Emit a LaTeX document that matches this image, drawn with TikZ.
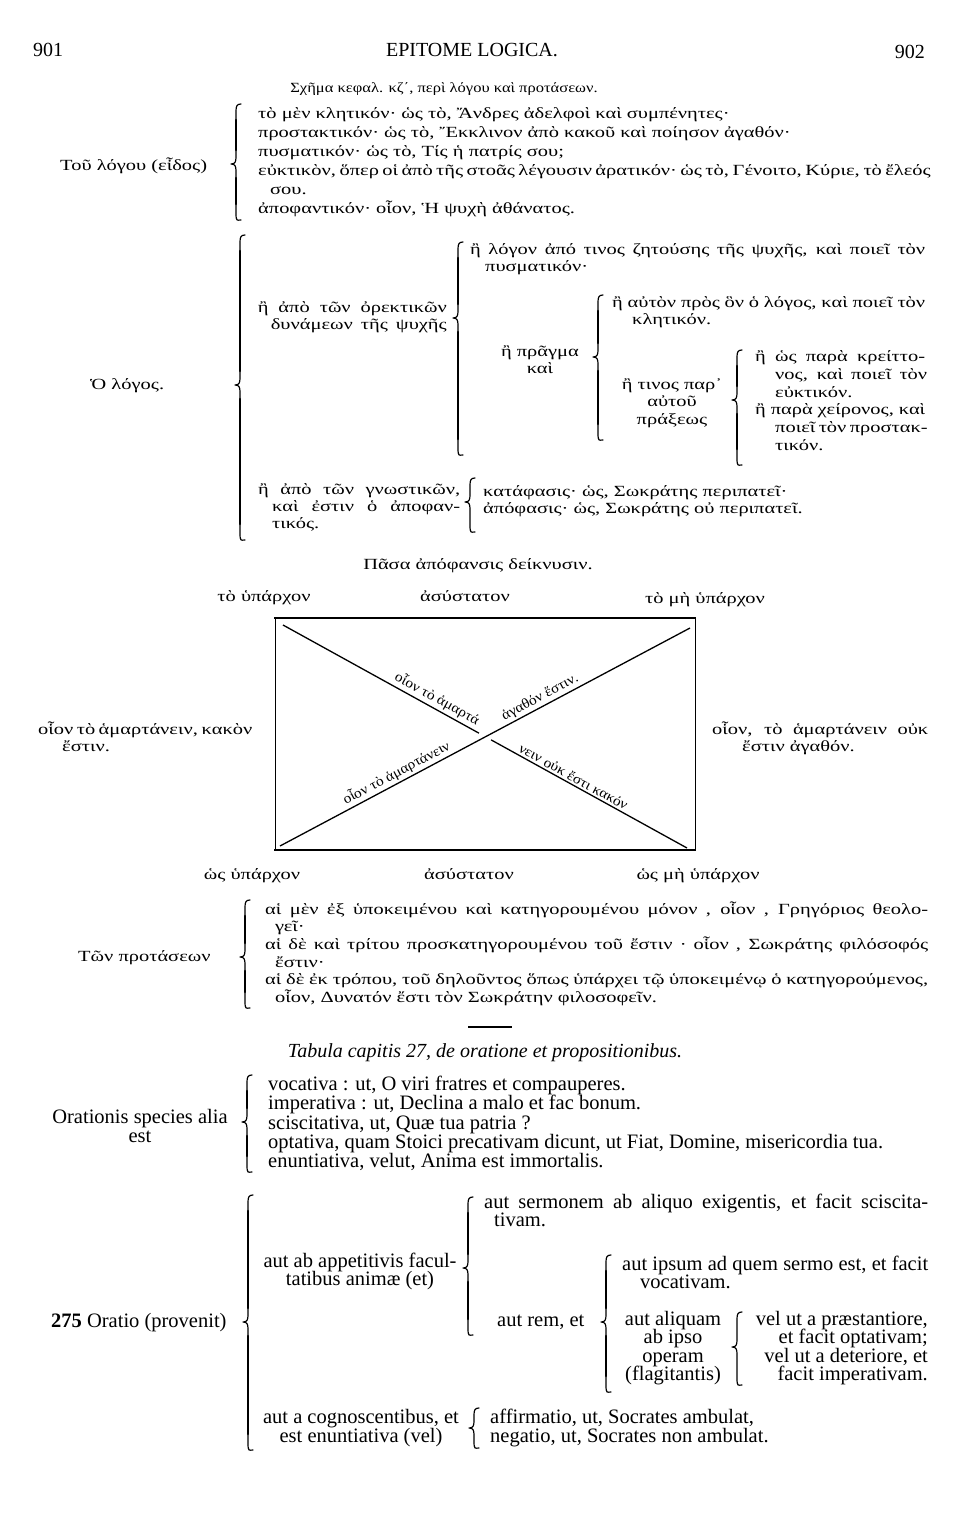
\documentclass[tikz,border=0pt]{standalone}
\usepackage{fontspec}
\setmainfont{Liberation Serif}
\newfontfamily\grkfam[FakeStretch=1.32]{Liberation Serif}
\newfontfamily\diagfam[FakeStretch=1.1]{Liberation Serif}
\newfontfamily\ttlfam[FakeStretch=1.18]{Liberation Serif}
\usetikzlibrary{calc}
\newcommand\J[2]{\makebox[#1pt][s]{#2}}
\newcommand\grkf{\grkfam\fontsize{15.5}{18}\selectfont}
\newcommand\diagf{\diagfam\fontsize{14}{17}\selectfont}
\newcommand\ttlf{\ttlfam\fontsize{14}{17}\selectfont}
\newcommand\latf{\fontsize{20.5}{21}\selectfont}
\newcommand\hdf{\fontsize{20}{21}\selectfont}
% thin brace: x, top, bottom, tip
\newcommand\brk[5][]{%
  \draw[brc,#1] (#2+5,-#3) .. controls (#2+1,-#3) and (#2,-#3-2) .. (#2,-#3-7)
    -- (#2,-#5+7) .. controls (#2,-#5+2) and (#2-1,-#5) .. (#2-5,-#5)
    .. controls (#2-1,-#5) and (#2,-#5-2) .. (#2,-#5-7)
    -- (#2,-#4+7) .. controls (#2,-#4-2) and (#2+1,-#4) .. (#2+5,-#4);}
% brace with heavier stems
\newcommand\brkT[4]{%
  \brk{#1}{#2}{#3}{#4}
  \draw[stem] (#1,-#2-16) -- (#1,-#4+14);
  \draw[stem] (#1,-#4-14) -- (#1,-#3+16);}
\tikzset{
  gtxt/.style={font=\grkf, inner sep=0pt, anchor=base west},
  ltxt/.style={font=\latf, inner sep=0pt, anchor=base west},
  dtxt/.style={font=\diagf, inner sep=2.5pt, anchor=south, sloped},
  hd/.style={font=\hdf, inner sep=0pt},
  brc/.style={line width=1.2pt, line cap=round, line join=round},
  stem/.style={line width=2.6pt, line cap=round},
  diag/.style={line width=1.3pt},
}
\begin{document}
\begin{tikzpicture}[x=1pt,y=1pt]
\fill[white] (0,0) rectangle (960,-1540);
\useasboundingbox (0,0) rectangle (960,-1540);
% header
\node[hd, anchor=base west] (pl) at (33,-56) {901};
\node[hd, anchor=base] (ttl) at (472,-56) {EPITOME LOGICA.};
\node[hd, anchor=base east] (pr) at (925,-58) {902};
\node[gtxt, font=\ttlf, anchor=base] (sch) at (444,-92) {Σχῆμα κεφαλ. κζ΄, περὶ λόγου καὶ προτάσεων.};
% section 1
\node[gtxt] (s1h) at (60,-170) {Τοῦ λόγου (εἶδος)};
\brkT{236}{104}{220}{164}
\node[gtxt] (s1a) at (258,-118) {τὸ μὲν κλητικόν· ὡς τὸ, Ἄνδρες ἀδελφοὶ καὶ συμπένητες·};
\node[gtxt] (s1b) at (258,-137) {προστακτικόν· ὡς τὸ, Ἔκκλινον ἀπὸ κακοῦ καὶ ποίησον ἀγαθόν·};
\node[gtxt] (s1c) at (258,-156) {πυσματικόν· ὡς τὸ, Τίς ἡ πατρίς σου;};
\node[gtxt] (s1d) at (258,-175) {\J{667}{εὐκτικὸν, ὅπερ οἱ ἀπὸ τῆς στοᾶς λέγουσιν ἀρατικόν· ὡς τὸ, Γένοιτο, Κύριε, τὸ ἔλεός}};
\node[gtxt] (s1e) at (270,-194) {σου.};
\node[gtxt] (s1f) at (258,-213) {ἀποφαντικόν· οἷον, Ἡ ψυχὴ ἀθάνατος.};
% section 2
\node[gtxt] (lg) at (90,-389) {Ὁ λόγος.};
\brkT{240}{235}{540}{385}
\node[gtxt, anchor=base east] (a1) at (447,-312) {\J{189}{ἢ ἀπὸ τῶν ὀρεκτικῶν}};
\node[gtxt, anchor=base east] (a2) at (447,-329) {\J{176}{δυνάμεων τῆς ψυχῆς}};
\brkT{458}{242}{455}{318}
\node[gtxt] (b1) at (470,-254) {\J{455}{ἢ λόγον ἀπό τινος ζητούσης τῆς ψυχῆς, καὶ ποιεῖ τὸν}};
\node[gtxt] (b2) at (485,-271) {πυσματικόν·};
\node[gtxt, anchor=base] (c1) at (540,-356) {ἢ πρᾶγμα};
\node[gtxt, anchor=base] (c2) at (540,-373) {καὶ};
\brkT{598}{295}{440}{357}
\node[gtxt] (d1) at (612,-307) {\J{313}{ἢ αὐτὸν πρὸς ὃν ὁ λόγος, καὶ ποιεῖ τὸν}};
\node[gtxt] (d2) at (632,-324) {κλητικόν.};
\node[gtxt, anchor=base] (e1) at (672,-389) {ἢ τινος παρ᾽};
\node[gtxt, anchor=base] (e2) at (672,-406) {αὐτοῦ};
\node[gtxt, anchor=base] (e3) at (672,-424) {πράξεως};
\brkT{737}{350}{465}{400}
\node[gtxt] (f1) at (755,-361) {\J{170}{ἢ ὡς παρὰ κρείττο-}};
\node[gtxt] (f2) at (775,-379) {\J{152}{νος, καὶ ποιεῖ τὸν}};
\node[gtxt] (f3) at (775,-397) {εὐκτικόν.};
\node[gtxt] (f4) at (755,-414) {\J{170}{ἢ παρὰ χείρονος, καὶ}};
\node[gtxt] (f5) at (775,-432) {\J{152}{ποιεῖ τὸν προστακ-}};
\node[gtxt] (f6) at (775,-450) {τικόν.};
\node[gtxt] (g1) at (258,-494) {\J{202}{ἢ ἀπὸ τῶν γνωστικῶν,}};
\node[gtxt] (g2) at (272,-511) {\J{188}{καὶ ἐστιν ὁ ἀποφαν-}};
\node[gtxt] (g3) at (272,-528) {τικός.};
\brk{470}{478}{532}{502}
\node[gtxt] (h1) at (483,-496) {κατάφασις· ὡς, Σωκράτης περιπατεῖ·};
\node[gtxt] (h2) at (483,-513) {ἀπόφασις· ὡς, Σωκράτης οὐ περιπατεῖ.};
% square of opposition
\node[gtxt, anchor=base] (pasa) at (478,-569) {Πᾶσα ἀπόφανσις δείκνυσιν.};
\node[gtxt, anchor=base] (t1) at (264,-601) {τὸ ὑπάρχον};
\node[gtxt, anchor=base] (t2) at (465,-601) {ἀσύστατον};
\node[gtxt, anchor=base] (t3) at (705,-603) {τὸ μὴ ὑπάρχον};
\draw[line width=0.9pt] (275,-618) -- (275,-850) (695,-618) -- (695,-850);
\draw[line width=2pt] (274,-618) -- (696,-618);
\draw[line width=2.4pt] (274,-850) -- (696,-850);
\coordinate (dtl) at (283,-625);
\coordinate (dbr) at (687,-848);
\coordinate (dbl) at (280,-846);
\coordinate (dtr) at (690,-628);
\draw[diag] (dbl) -- (dtr);
\draw[diag] (dtl) -- ($(dtl)!0.485!(dbr)$);
\draw[diag] ($(dtl)!0.515!(dbr)$) -- (dbr);
\path (dtl) -- (dbr) node[dtxt, pos=0.37] (x1) {οἷον τὸ ἁμαρτά};
\path (dtl) -- (dbr) node[dtxt, pos=0.71] (x2) {νειν οὐκ ἔστι κακόν};
\path (dbl) -- (dtr) node[dtxt, pos=0.295] (x3) {οἷον τὸ ἁμαρτάνειν};
\path (dbl) -- (dtr) node[dtxt, pos=0.645] (x4) {ἀγαθόν ἔστιν.};
\node[gtxt] (lft1) at (38,-734) {\J{214}{οἷον τὸ ἁμαρτάνειν, κακὸν}};
\node[gtxt] (lft2) at (62,-751) {ἔστιν.};
\node[gtxt] (rgt1) at (712,-734) {\J{216}{οἷον, τὸ ἁμαρτάνειν οὐκ}};
\node[gtxt] (rgt2) at (742,-751) {ἔστιν ἀγαθόν.};
\node[gtxt, anchor=base] (u1) at (252,-879) {ὡς ὑπάρχον};
\node[gtxt, anchor=base] (u2) at (469,-879) {ἀσύστατον};
\node[gtxt, anchor=base] (u3) at (698,-879) {ὡς μὴ ὑπάρχον};
% propositions
\node[gtxt] (prh) at (78,-961) {Τῶν προτάσεων};
\brkT{245}{900}{1008}{957}
\node[gtxt] (p1) at (265,-914) {\J{663}{αἱ μὲν ἐξ ὑποκειμένου καὶ κατηγορουμένου μόνον , οἷον , Γρηγόριος θεολο-}};
\node[gtxt] (p2) at (275,-931.6) {γεῖ·};
\node[gtxt] (p3) at (265,-949) {\J{663}{αἱ δὲ καὶ τρίτου προσκατηγορουμένου τοῦ ἔστιν · οἷον , Σωκράτης φιλόσοφός}};
\node[gtxt] (p4) at (275,-967) {ἔστιν·};
\node[gtxt] (p5) at (265,-984) {\J{663}{αἱ δὲ ἐκ τρόπου, τοῦ δηλοῦντος ὅπως ὑπάρχει τῷ ὑποκειμένῳ ὁ κατηγορούμενος,}};
\node[gtxt] (p6) at (275,-1002) {οἷον, Δυνατόν ἔστι τὸν Σωκράτην φιλοσοφεῖν.};
\coordinate (rl) at (468,-1027);
\coordinate (rr) at (512,-1027);
\draw[line width=1.2pt] (rl) -- (rr);
% Latin
\node[ltxt, anchor=base, font=\fontsize{20}{21}\selectfont\itshape] (tab) at (485,-1057) {Tabula capitis 27, de oratione et propositionibus.};
\node[ltxt, anchor=base] (or1) at (140,-1123) {Orationis species alia};
\node[ltxt, anchor=base] (or2) at (140,-1142) {est};
\brkT{247}{1075}{1172}{1122}
\node[ltxt] (v1) at (268,-1090) {vocativa : ut, O viri fratres et compauperes.};
\node[ltxt] (v2) at (268,-1109) {imperativa : ut, Declina a malo et fac bonum.};
\node[ltxt] (v3) at (268,-1129) {sciscitativa, ut, Quæ tua patria ?};
\node[ltxt] (v4) at (268,-1148) {optativa, quam Stoici precativam dicunt, ut Fiat, Domine, misericordia tua.};
\node[ltxt] (v5) at (268,-1167) {enuntiativa, velut, Anima est immortalis.};
\node[ltxt] (ora) at (51,-1327) {\textbf{275} Oratio (provenit)};
\brkT{248}{1195}{1450}{1322}
\node[ltxt, anchor=base] (w1) at (360,-1267) {aut ab appetitivis facul-};
\node[ltxt, anchor=base] (w2) at (360,-1285) {tatibus animæ (et)};
\brkT{468}{1197}{1335}{1268}
\node[ltxt] (y1) at (484,-1208) {\J{444}{aut sermonem ab aliquo exigentis, et facit sciscita-}};
\node[ltxt] (y2) at (494,-1226) {tivam.};
\node[ltxt] (z1) at (622,-1270) {\J{306}{aut ipsum ad quem sermo est, et facit}};
\node[ltxt] (z2) at (640,-1288) {vocativam.};
\node[ltxt] (rem) at (497,-1326) {aut rem, et};
\brkT{606}{1255}{1392}{1322}
\node[ltxt, anchor=base] (q1) at (673,-1325) {aut aliquam};
\node[ltxt, anchor=base] (q2) at (673,-1343) {ab ipso};
\node[ltxt, anchor=base] (q3) at (673,-1362) {operam};
\node[ltxt, anchor=base] (q4) at (673,-1380) {(flagitantis)};
\brk{737}{1312}{1385}{1347}
\node[ltxt, anchor=base east] (k1) at (928,-1325) {vel ut a præstantiore,};
\node[ltxt, anchor=base east] (k2) at (928,-1343) {et facit optativam;};
\node[ltxt, anchor=base east] (k3) at (928,-1362) {vel ut a deteriore, et};
\node[ltxt, anchor=base east] (k4) at (928,-1380) {facit imperativam.};
\node[ltxt, anchor=base] (co1) at (361,-1423) {aut a cognoscentibus, et};
\node[ltxt, anchor=base] (co2) at (361,-1442) {est enuntiativa (vel)};
\brk{474}{1408}{1448}{1428}
\node[ltxt] (af) at (490,-1423) {affirmatio, ut, Socrates ambulat,};
\node[ltxt] (ng) at (490,-1442) {negatio, ut, Socrates non ambulat.};
\end{tikzpicture}
\end{document}
